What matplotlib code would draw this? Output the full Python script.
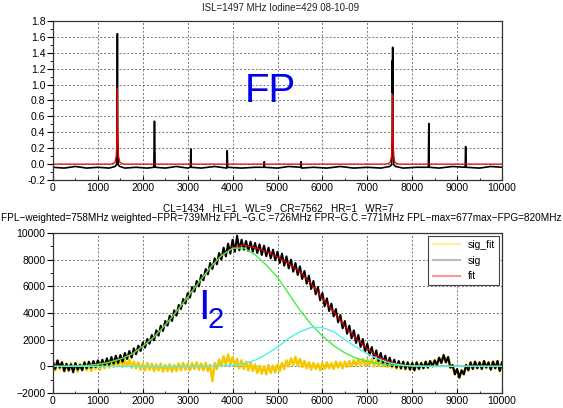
import matplotlib
matplotlib.use("Agg")
import matplotlib.pyplot as plt
import numpy as np
from matplotlib.lines import Line2D
from matplotlib.ticker import MultipleLocator

plt.rcParams['font.family'] = ['Liberation Sans', 'DejaVu Sans']

# ---------------- top panel: FP transmission ----------------
fp_x = [0, 250, 500, 750, 1000, 1250, 1380, 1415, 1428, 1434, 1440, 1453, 1490, 1600,
        1850, 2100, 2245, 2260, 2275, 2500, 2750, 3000, 3060, 3070, 3080, 3300, 3600,
        3870, 3880, 3890, 4200, 4500, 4695, 4705, 4715, 5000, 5250, 5515, 5525, 5535,
        5800, 6100, 6400, 6700, 7000, 7300, 7500, 7540, 7555, 7558, 7562, 7565, 7572,
        7590, 7630, 7800, 8100, 8360, 8370, 8380, 8600, 8900, 9180, 9190, 9200, 9500,
        9750, 10000]
fp_sig = [-0.04, -0.05, -0.03, -0.05, -0.04, -0.05, -0.03, -0.01, 0.4, 1.64, 0.4, -0.01,
          -0.03, -0.05, -0.04, -0.05, -0.04, 0.54, -0.04, -0.05, -0.03, -0.05, -0.04, 0.19,
          -0.04, -0.05, -0.03, -0.05, 0.17, -0.04, -0.05, -0.04, -0.04, 0.03, -0.04, -0.05,
          -0.03, -0.04, 0.03, -0.05, -0.04, -0.05, -0.03, -0.05, -0.04, -0.05, -0.03,
          -0.01, 0.35, 1.30, 0.9, 1.47, 0.3, -0.01, -0.03, -0.05, -0.04, -0.04, 0.51, -0.04,
          -0.05, -0.03, -0.04, 0.22, -0.04, -0.05, -0.03, -0.04]

fp_fit_x = [0, 1300, 1380, 1410, 1425, 1434, 1443, 1458, 1490, 1570, 7430, 7510,
            7540, 7553, 7562, 7571, 7584, 7614, 7700, 10000]
fp_fit = [0.0, 0.0, 0.02, 0.1, 0.4, 0.95, 0.4, 0.1, 0.02, 0.0, 0.0, 0.02,
          0.1, 0.4, 0.87, 0.4, 0.1, 0.02, 0.0, 0.0]

# ---------------- bottom panel: I2 absorption ----------------
x_fine = list(range(0, 10001, 50))
sig = [350, -200, 450, -100, 300, -350, 200, -300, 150, -450,
       250, -250, 100, -300, 300, -150, 350, -100, 400, -50,
       450, 0, 500, 50, 600, 100, 700, 200, 800, 250,
       850, 350, 1000, 550, 1150, 650, 1350, 900, 1550, 1150,
       1800, 1400, 2050, 1700, 2350, 1950, 2700, 2300, 3050, 2650,
       3400, 3050, 3800, 3400, 4200, 3800, 4600, 4300, 5050, 4700,
       5500, 5150, 5950, 5600, 6400, 6000, 6850, 6450, 7300, 6900,
       7750, 7300, 8100, 7650, 8500, 8000, 8900, 8250, 9200, 8450,
       9500, 8600, 9800, 8700, 9500, 8750, 9400, 8650, 9350, 8600,
       9250, 8500, 9150, 8350, 9050, 8250, 8900, 8100, 8750, 7950,
       8600, 7750, 8450, 7550, 8250, 7350, 8000, 7100, 7750, 6850,
       7500, 6550, 7150, 6200, 6800, 5800, 6400, 5400, 5950, 4950,
       5500, 4500, 5100, 4150, 4700, 3750, 4300, 3300, 3850, 2850,
       3400, 2450, 3050, 2100, 2700, 1750, 2350, 1450, 2050, 1100,
       1700, 850, 1450, 600, 1200, 400, 1000, 250, 800, 100,
       650, 0, 500, -100, 400, -150, 350, -200, 300, -250,
       250, -300, 300, -200, 250, -150, 350, -100, 400, 0,
       450, 100, 650, 250, 850, 300, 700, -100, 100, -600,
       -200, -850, -300, -600, 100, -300, 300, -200, 350, -150,
       300, -200, 400, -100, 300, -250, 350, -150, 400, -350,
       300]
sig_fit = [200, -300, 400, -200, 300, -400, 150, -350, 250, -300,
           100, -400, 200, -250, 300, -300, 150, -350, 250, -200,
           300, -250, 350, -150, 400, -100, 450, -50, 500, 0,
           550, -50, 450, 0, 500, -100, 350, -150, 300, -250,
           200, -300, 250, -250, 200, -350, 150, -300, 200, -400,
           100, -350, 150, -400, 100, -350, 200, -300, 250, -250,
           200, -300, 250, -200, 300, -250, 200, -300, 250, -350,
           100, -1100, 250, -200, 500, 0, 750, 100, 900, 150,
           700, 0, 550, -150, 450, -200, 350, -300, 300, -350,
           150, -500, 50, -550, 0, -600, 100, -500, 50, -450,
           150, -350, 250, -200, 450, 0, 600, 100, 700, 50,
           550, -50, 400, -150, 300, -250, 250, -200, 200, -300,
           250, -200, 300, -150, 250, -200, 350, -100, 300, -150,
           350, -50, 400, 0, 450, 50, 500, 100, 550, 50,
           500, 100, 550, 0, 450, 50, 400, 0, 350, -50,
           300, -100, 250, -150, 250, -200, 300, -200, 300, -250,
           250, -300, 300, -200, 250, -150, 350, -100, 400, 0,
           450, 100, 650, 250, 850, 300, 700, -100, 100, -600,
           -200, -850, -300, -600, 100, -300, 300, -200, 350, -150,
           300, -200, 400, -100, 300, -250, 350, -150, 400, -350,
           300]

x_coarse = list(range(0, 10001, 250))
fit = [0, 0, 20, 60, 150, 300, 550, 900, 1500, 2200, 3100, 4100, 5200, 6300, 7400,
       8300, 8900, 9100, 8900, 8600, 8200, 7700, 7100, 6200, 5100, 4100, 3000, 2100,
       1300, 700, 350, 120, 40, 10, 0, 0, 0, 0, 0, 0, 0]
comp_left = [0, 0, 20, 60, 150, 300, 550, 900, 1500, 2200, 3100, 4100, 5200, 6300, 7400,
             8300, 8850, 8880, 8370, 7600, 6670, 5450, 4210, 3150, 2280, 1550, 1010, 620,
             370, 200, 110, 55, 30, 10, 0, 0, 0, 0, 0, 0, 0]
comp_right = [0, 0, 0, 0, 0, 0, 0, 0, 0, 0, 0, 0, 0, 10, 30, 50, 80, 200, 450, 900,
              1450, 2100, 2600, 2920, 2900, 2600, 2000, 1450, 950, 550, 250, 100, 30, 0,
              0, 0, 0, 0, 0, 0, 0]

grid_kw = dict(color='#777777', linestyle=(0, (2, 2)), linewidth=0.7)


def style_axes(ax):
    ax.grid(True, **grid_kw)
    ax.tick_params(axis='y', which='major', direction='out', length=4, width=0.8,
                   labelsize=7.5, pad=1.5, right=False)
    ax.tick_params(axis='y', which='minor', direction='out', length=2, width=0.6, right=False)
    ax.tick_params(axis='x', which='major', direction='in', length=3, width=0.8,
                   labelsize=7.5, pad=2, top=False)
    ax.tick_params(axis='x', which='minor', direction='in', length=1.5, width=0.6, top=False)
    for s in ax.spines.values():
        s.set_color('#333333')
        s.set_linewidth(0.9)


fig = plt.figure(figsize=(5.63, 4.08), dpi=100)

# top
ax1 = fig.add_axes([53 / 563, 1 - 180 / 408, 449 / 563, 159 / 408])
ax1.plot(fp_x, fp_sig, color='black', linewidth=1.2)
ax1.plot(fp_fit_x, fp_fit, color='#ee0000', linewidth=0.9)
ax1.set_xlim(0, 10000)
ax1.set_ylim(-0.2, 1.8)
ax1.xaxis.set_major_locator(MultipleLocator(1000))
ax1.xaxis.set_minor_locator(MultipleLocator(500))
ax1.yaxis.set_major_locator(MultipleLocator(0.2))
ax1.yaxis.set_minor_locator(MultipleLocator(0.1))
ax1.set_yticklabels([f'{v:.1f}' for v in ax1.get_yticks()])
style_axes(ax1)
ax1.text(4276, 0.78, 'FP', color='#0000ee', fontsize=29, ha='left', va='baseline')

# bottom
ax2 = fig.add_axes([53 / 563, 1 - 393 / 408, 449 / 563, 160 / 408])
ax2.plot(x_fine, sig_fit, color='#f5c800', linewidth=1.8)
ax2.plot(x_fine, sig, color='black', linewidth=1.5)
ax2.plot(x_coarse, fit, color='#dd0000', linewidth=1.0)
ax2.plot(x_coarse, comp_left, color='#44ee44', linewidth=1.0)
ax2.plot(x_coarse, comp_right, color='#55eeee', linewidth=1.0)
ax2.set_xlim(0, 10000)
ax2.set_ylim(-2000, 10000)
ax2.xaxis.set_major_locator(MultipleLocator(1000))
ax2.xaxis.set_minor_locator(MultipleLocator(500))
ax2.yaxis.set_major_locator(MultipleLocator(2000))
ax2.yaxis.set_minor_locator(MultipleLocator(1000))
style_axes(ax2)
ax2.text(3230, 3550, 'I', color='#0000ee', fontsize=30, ha='left', va='baseline')
ax2.text(3440, 2870, '2', color='#0000ee', fontsize=21, ha='left', va='baseline')

handles = [Line2D([], [], color='#ffee99', lw=1.5),
           Line2D([], [], color='#bbbbbb', lw=1.5),
           Line2D([], [], color='#ff9999', lw=1.5)]
leg = ax2.legend(handles, ['sig_fit', 'sig', 'fit'], loc='upper right', fontsize=7.5,
                 fancybox=False, framealpha=1, edgecolor='#444444', handlelength=2.6,
                 borderpad=0.4, labelspacing=0.55, borderaxespad=0.25)
leg.get_frame().set_linewidth(0.8)

# titles
fig.text(281 / 563, 1 - 11 / 408, 'ISL=1497 MHz Iodine=429 08-10-09', fontsize=7,
         ha='center', va='baseline', color='#222222')
fig.text(278 / 563, 1 - 212 / 408, 'CL=1434   HL=1   WL=9   CR=7562   HR=1   WR=7',
         fontsize=7.2, ha='center', va='baseline')
fig.text(281 / 563, 1 - 221 / 408,
         'FPL\u2212weighted=758MHz weighted\u2212FPR=739MHz FPL\u2212G.C.=726MHz '
         'FPR\u2212G.C.=771MHz FPL\u2212max=677max\u2212FPG=820MHz',
         fontsize=7.2, ha='center', va='baseline')

fig.savefig('out.png', dpi=100)
